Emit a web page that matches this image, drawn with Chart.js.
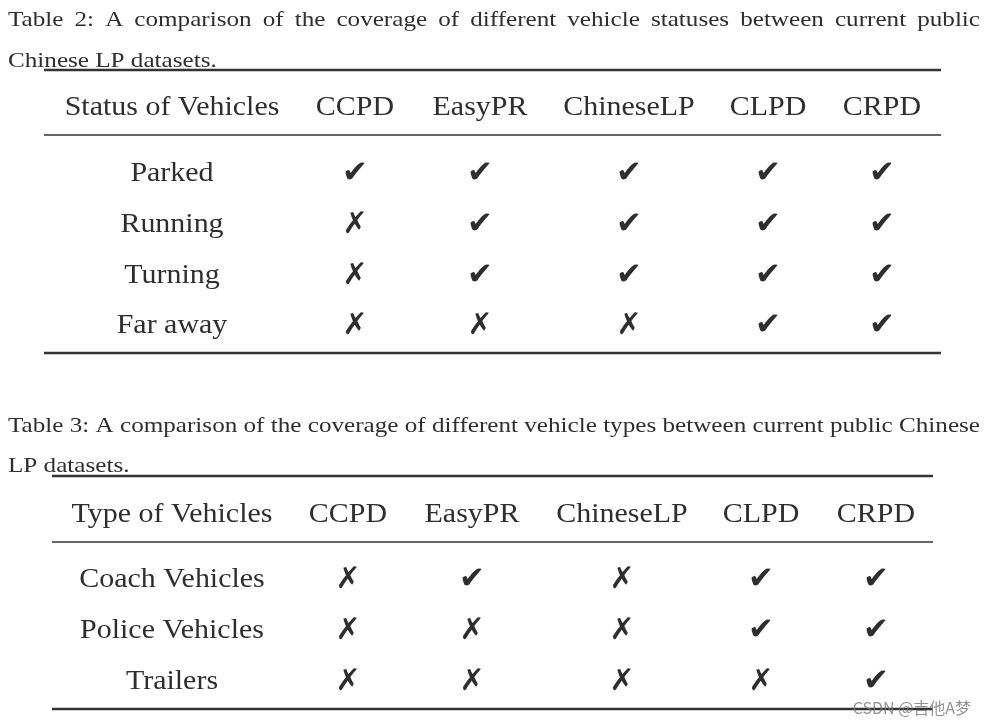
<!DOCTYPE html>
<html>
<head>
<meta charset="utf-8">
<script src="https://cdn.jsdelivr.net/npm/chart.js@4/dist/chart.umd.min.js"></script>
<style>
  html, body { margin: 0; padding: 0; background: #fff; }
  #wrap { width: 986px; height: 726px; }
</style>
</head>
<body>
<div id="wrap"><canvas id="tables" width="986" height="726"></canvas></div>
<script>
// Dữ liệu của hai bảng
const datasetNames = ['CCPD', 'EasyPR', 'ChineseLP', 'CLPD', 'CRPD'];

const statusHeader = 'Status of Vehicles';
const statusRows = ['Parked', 'Running', 'Turning', 'Far away'];
const statusCover = [
    [1, 1, 1, 1, 1],
    [0, 1, 1, 1, 1],
    [0, 1, 1, 1, 1],
    [0, 0, 0, 1, 1],
];

const typeHeader = 'Type of Vehicles';
const typeRows = ['Coach Vehicles', 'Police Vehicles', 'Trailers'];
const typeCover = [
    [0, 1, 0, 1, 1],
    [0, 0, 0, 1, 1],
    [0, 0, 0, 0, 1],
];

const caption2 = ['Table 2:  A comparison of the coverage of different vehicle statuses between current public',
                  'Chinese LP datasets.'];
const caption3 = ['Table 3:  A comparison of the coverage of different vehicle types between current public Chinese',
                  'LP datasets.'];

// Bố cục (toạ độ theo pixel của trang)
const layout2 = {
    cols: [172, 355, 480, 629, 768, 882],
    header: 105, rows: [171, 222, 273, 323],
    rules: [70, 135, 353], left: 44, right: 941,
    capLines: [26, 67],
};
const layout3 = {
    cols: [172, 348, 472, 622, 761, 876],
    header: 512, rows: [577, 628, 679],
    rules: [476, 542, 709], left: 52, right: 933,
    capLines: [432, 472],
};

const INK = '#2e2e2e';
const serif = '"Liberation Serif", serif';

// Hình ký hiệu ✔ / ✗ làm pointStyle
function glyphImage(ch, size) {
    const c = document.createElement('canvas');
    c.width = 44; c.height = 44;
    const g = c.getContext('2d');
    g.fillStyle = INK;
    g.font = 'bold ' + size + 'px "DejaVu Sans"';
    g.textAlign = 'center';
    g.textBaseline = 'middle';
    g.fillText(ch, 22, 25);
    return c;
}
const checkImg = glyphImage('\u2714', 31);
const crossImg = glyphImage('\u2717', 30);

function cellPoints(cover, lay, want) {
    const pts = [];
    cover.forEach((row, i) => {
        row.forEach((v, j) => {
            if (v === want) pts.push({ x: lay.cols[j + 1], y: lay.rows[i] });
        });
    });
    return pts;
}

// Vẽ chữ co giãn ngang một chút cho giống font Computer Modern
function drawText(ctx, text, x, y, size, align, stretch) {
    ctx.save();
    ctx.font = size + 'px ' + serif;
    ctx.fillStyle = INK;
    ctx.textBaseline = 'alphabetic';
    const w = ctx.measureText(text).width * stretch;
    let x0 = x;
    if (align === 'center') x0 = x - w / 2;
    ctx.translate(x0, y);
    ctx.scale(stretch, 1);
    ctx.textAlign = 'left';
    ctx.fillText(text, 0, 0);
    ctx.restore();
}

// Dòng chú thích căn đều hai bên
function drawJustified(ctx, text, x1, x2, y, size, stretch) {
    ctx.save();
    ctx.font = size + 'px ' + serif;
    ctx.fillStyle = INK;
    const words = text.split(/\s+/);
    const total = words.reduce((s, w) => s + ctx.measureText(w).width * stretch, 0);
    const gap = (x2 - x1 - total) / (words.length - 1);
    let x = x1;
    words.forEach((w) => {
        ctx.save();
        ctx.translate(x, y);
        ctx.scale(stretch, 1);
        ctx.fillText(w, 0, 0);
        ctx.restore();
        x += ctx.measureText(w).width * stretch + gap;
    });
    ctx.restore();
}

const CAP_SIZE = 22;

const tablePlugin = {
    id: 'tableText',
    beforeDatasetsDraw(chart) {
        const ctx = chart.ctx;
        const sx = chart.scales.x, sy = chart.scales.y;
        const px = (v) => sx.getPixelForValue(v);
        const py = (v) => sy.getPixelForValue(v);

        // độ giãn chữ chú thích: dòng dài nhất vừa khít với khoảng trống bình thường
        ctx.save();
        ctx.font = CAP_SIZE + 'px ' + serif;
        const capStretch = (px(980) - px(8)) / ctx.measureText(caption3[0].replace('  ', ' ')).width;
        ctx.restore();

        function drawTable(lay, header, rows, caption) {
            drawJustified(ctx, caption[0], px(8), px(980), py(lay.capLines[0]), CAP_SIZE, capStretch);
            drawText(ctx, caption[1], px(8), py(lay.capLines[1]), CAP_SIZE, 'left', capStretch);

            // các đường kẻ kiểu booktabs
            ctx.save();
            ctx.strokeStyle = '#333';
            lay.rules.forEach((r, k) => {
                ctx.lineWidth = (k === 1) ? 1.3 : 2.3;
                ctx.beginPath();
                ctx.moveTo(px(lay.left), py(r));
                ctx.lineTo(px(lay.right), py(r));
                ctx.stroke();
            });
            ctx.restore();

            const hy = py(lay.header) + 10;
            drawText(ctx, header, px(lay.cols[0]), hy, 28, 'center', 1.07);
            datasetNames.forEach((n, j) => {
                drawText(ctx, n, px(lay.cols[j + 1]), hy, 28, 'center', 1.07);
            });
            rows.forEach((r, i) => {
                drawText(ctx, r, px(lay.cols[0]), py(lay.rows[i]) + 10, 28, 'center', 1.07);
            });
        }

        drawTable(layout2, statusHeader, statusRows, caption2);
        drawTable(layout3, typeHeader, typeRows, caption3);

        // watermark
        ctx.save();
        ctx.font = '16px "Noto Sans CJK SC", "Noto Sans", sans-serif';
        ctx.fillStyle = 'rgba(120,120,120,0.8)';
        ctx.textAlign = 'right';
        ctx.fillText('CSDN @吉他A梦', px(971), py(714));
        ctx.restore();
    },
};

const ctx = document.getElementById('tables').getContext('2d');
new Chart(ctx, {
    type: 'scatter',
    data: {
        datasets: [
            {
                label: 'check',
                data: cellPoints(statusCover, layout2, 1).concat(cellPoints(typeCover, layout3, 1)),
                pointStyle: checkImg,
            },
            {
                label: 'cross',
                data: cellPoints(statusCover, layout2, 0).concat(cellPoints(typeCover, layout3, 0)),
                pointStyle: crossImg,
            },
        ],
    },
    options: {
        responsive: false,
        animation: false,
        layout: { padding: 0, autoPadding: false },
        scales: {
            x: { type: 'linear', min: 0, max: 986, display: false },
            y: { type: 'linear', min: 0, max: 726, reverse: true, display: false },
        },
        plugins: {
            legend: { display: false },
            tooltip: { enabled: false },
        },
    },
    plugins: [tablePlugin],
});
</script>
</body>
</html>
